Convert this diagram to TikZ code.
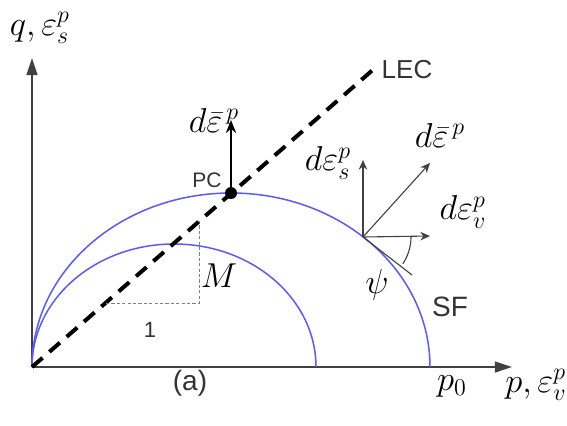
\documentclass[tikz,border=0pt]{standalone}
\usepackage{fontspec}
\setsansfont{Liberation Sans}
\usepackage{tikz}
\usetikzlibrary{arrows.meta,calc}
\tikzset{vec/.style={-{Stealth[length=1.7mm,width=1.5mm]},line width=.55pt,black!75},
         axis/.style={-{Triangle[length=3mm,width=1.9mm]},line width=1pt,black!75},
         yld/.style={line width=.75pt,blue!65},
         lbl/.style={font=\fontsize{17}{19}\selectfont,inner sep=1pt},
         txt/.style={font=\sffamily\fontsize{14}{16}\selectfont,black!80}}

\begin{document}
\begin{tikzpicture}[x=.5pt,y=.5pt]
  \useasboundingbox (0,0) rectangle (567,425);
  % axes
  \coordinate (O) at (32,58);
  \coordinate (xend) at (512,58);
  \coordinate (yend) at (32,367);
  \draw[axis] (O)--(xend);
  \draw[axis] (O)--(yend);
  % yield surfaces
  \draw[yld] (O) arc[start angle=180,end angle=0,x radius=199,y radius=174];
  \draw[yld] (O) arc[start angle=180,end angle=0,x radius=142,y radius=123];
  % critical state line
  \coordinate (lec) at (375,357);
  \draw[line width=2pt,dash pattern=on 7pt off 4.5pt] (O)--(lec);
  \draw[gray,line width=.5pt,dash pattern=on 1.6pt off 1.1pt]
    (106,122)--(199,122)--(199,204);
  % peak point
  \coordinate (PC) at (231,232);
  \coordinate (PCup) at (231,305);
  \draw[-{Stealth[length=2.3mm,width=1.8mm]},line width=1pt] (PC)--(PCup);
  \fill (PC) circle (3pt);
  % flow vectors on the surface
  \coordinate (R) at (363,188);
  \coordinate (Rs) at (363,265);
  \coordinate (Rv) at (430,189);
  \coordinate (Rt) at (430,262);
  \coordinate (Rf) at (412,150);
  \draw[vec] (R)--(Rs);
  \draw[vec] (R)--(Rv);
  \draw[vec] (R)--(Rt);
  \draw[line width=.55pt,black!75] (R)--(Rf);
  \draw[line width=.55pt,black!75] ($(R)+(48,0)$) arc[start angle=0,end angle=-34,radius=48];
  % labels
  \node[lbl] (qlab) at (40,397) {$q,\varepsilon_s^p$};
  \node[lbl] (plab) at (536,40) {$p,\varepsilon_v^p$};
  \node[lbl] (p0lab) at (452,39) {$p_0$};
  \node[txt,font=\sffamily\fontsize{13}{15}\selectfont] (leclab) at (407,355) {LEC};
  \node[txt,font=\sffamily\fontsize{10.5}{12}\selectfont] (pclab) at (207,245) {PC};
  \node[lbl] (pcvec) at (214,305) {$d\bar{\varepsilon}^{\,p}$};
  \node[lbl] (slab) at (328,262) {$d\varepsilon_s^p$};
  \node[lbl] (tlab) at (440,290) {$d\bar{\varepsilon}^{\,p}$};
  \node[lbl] (vlab) at (463,213) {$d\varepsilon_v^p$};
  \node[lbl] (psilab) at (377,140) {$\psi$};
  \node[txt] (sflab) at (450,118) {SF};
  \node[lbl] (mlab) at (219,149) {$M$};
  \node[txt,font=\sffamily\fontsize{11}{13}\selectfont] (onelab) at (150,95) {1};
  \node[txt] (alab) at (190,42) {(a)};
\end{tikzpicture}
\end{document}
